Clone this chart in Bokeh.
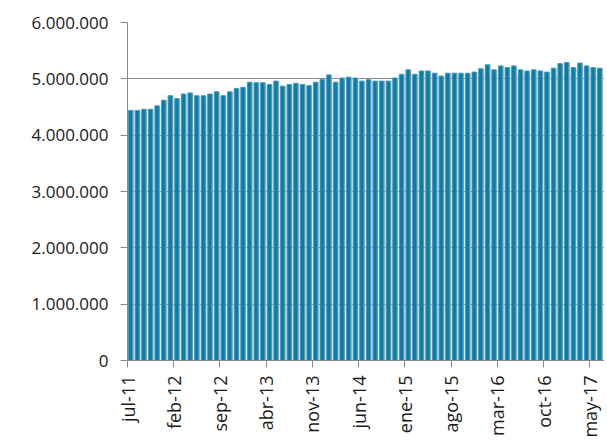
import math
from bokeh.plotting import figure
from bokeh.models import FixedTicker, Range1d, ColumnDataSource
from bokeh.embed import file_html
from bokeh.resources import INLINE

month_names = ["ene", "feb", "mar", "abr", "may", "jun", "jul", "ago", "sep", "oct", "nov", "dic"]
# monthly categories jul-11 .. jun-17
months = []
for k in range(72):
    m = (6 + k) % 12
    yr = 11 + (6 + k) // 12
    months.append(f"{month_names[m]}-{yr:02d}")

values = [
    4440000, 4440000, 4460000, 4460000, 4520000, 4620000, 4700000, 4650000, 4730000, 4750000,
    4700000, 4700000, 4730000, 4770000, 4700000, 4770000, 4830000, 4850000, 4940000, 4930000,
    4930000, 4900000, 4960000, 4870000, 4900000, 4920000, 4900000, 4880000, 4940000, 4990000,
    5070000, 4940000, 5015000, 5030000, 5015000, 4960000, 4985000, 4960000, 4960000, 4960000,
    5015000, 5080000, 5160000, 5080000, 5140000, 5140000, 5100000, 5050000, 5100000, 5100000,
    5100000, 5100000, 5120000, 5180000, 5250000, 5160000, 5230000, 5200000, 5230000, 5160000,
    5140000, 5160000, 5140000, 5120000, 5190000, 5270000, 5290000, 5200000, 5280000, 5230000,
    5200000, 5190000,
]

x_tick_labels = ["jul-11", "feb-12", "sep-12", "abr-13", "nov-13", "jun-14",
                 "ene-15", "ago-15", "mar-16", "oct-16", "may-17"]
y_tick_values = [0, 1000000, 2000000, 3000000, 4000000, 5000000, 6000000]
y_tick_labels = ["0", "1.000.000", "2.000.000", "3.000.000", "4.000.000", "5.000.000", "6.000.000"]

x_tick_pos = [months.index(lbl) for lbl in x_tick_labels]

idx = list(range(len(values)))
src = ColumnDataSource(dict(
    xs=[i + 0.56 for i in idx],
    xb=[i + 0.47 for i in idx],
    top=values,
    month=months,
))

FONT = "Open Sans"

p = figure(width=604, height=440, output_backend="svg", toolbar_location=None,
           x_range=Range1d(0, 72.2), y_range=Range1d(0, 6000000),
           min_border_left=127, min_border_top=22, min_border_bottom=79, min_border_right=0)
p.outline_line_color = None
p.background_fill_color = "white"

p.vbar(x="xs", top="top", width=0.82, bottom=0, source=src,
       fill_color="#B5B5B5", line_color=None)
p.vbar(x="xb", top="top", width=0.64, bottom=0, source=src,
       fill_color="#117BA3", line_color="#3E9FC4", line_width=1)

p.xgrid.visible = False
p.ygrid.grid_line_color = "#8A8A8A"
p.ygrid.grid_line_width = 1
p.ygrid.ticker = FixedTicker(ticks=y_tick_values)

p.yaxis.ticker = FixedTicker(ticks=y_tick_values)
p.yaxis.major_label_overrides = {v: l for v, l in zip(y_tick_values, y_tick_labels)}
p.yaxis.major_label_text_font = FONT
p.yaxis.major_label_text_font_size = "17px"
p.yaxis.major_label_text_color = "#1a1a1a"
p.yaxis.axis_line_color = "#8A8A8A"
p.yaxis.major_tick_line_color = "#8A8A8A"
p.yaxis.major_tick_out = 7
p.yaxis.major_tick_in = 0
p.yaxis.minor_tick_line_color = None
p.yaxis.major_label_standoff = 12

p.xaxis.ticker = FixedTicker(ticks=x_tick_pos)
p.xaxis.major_label_overrides = {v: l for v, l in zip(x_tick_pos, x_tick_labels)}
p.xaxis.major_label_orientation = math.pi / 2
p.xaxis.major_label_text_font = FONT
p.xaxis.major_label_text_font_size = "18px"
p.xaxis.major_label_text_color = "#1a1a1a"
p.xaxis.axis_line_color = "#8A8A8A"
p.xaxis.major_tick_line_color = "#8A8A8A"
p.xaxis.major_tick_out = 7
p.xaxis.major_tick_in = 0
p.xaxis.minor_tick_line_color = None
p.xaxis.major_label_standoff = 8

open("out.html", "w").write(file_html(p, INLINE))
